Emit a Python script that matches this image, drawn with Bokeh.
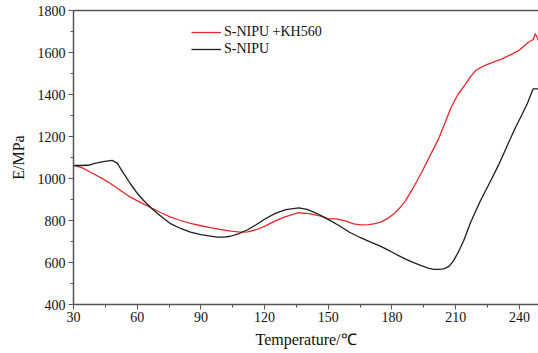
from bokeh.plotting import figure
from bokeh.models import LinearAxis, Range1d, FixedTicker, Legend, LegendItem
from bokeh.embed import file_html
from bokeh.resources import INLINE

# S-NIPU + KH560 (red)
kh_temp = [30, 34, 38, 43, 47.4, 52, 56.8, 61.5, 66.3, 71, 75.7, 80.4, 85.1, 90, 94.5, 99, 104, 108.7,
           112, 116, 120, 125, 130, 136, 141, 146, 150, 154, 158, 162, 165.2, 169, 172, 174.7, 178,
           180.9, 183.5, 186.4, 190, 194, 198, 202, 205, 207.6, 211, 214.7, 217, 219.4, 223, 227,
           231.9, 236, 240, 244.3, 246.5, 247.5, 249]
kh_mod = [1062, 1052, 1030, 1003, 976, 944, 911, 886, 862, 838, 816, 800, 786, 775, 766, 758, 749, 745,
          746, 756, 772, 798, 818, 837, 833, 822, 808, 808, 798, 784, 779, 780, 785, 792, 810,
          832, 858, 895, 955, 1030, 1110, 1190, 1265, 1333, 1400, 1451, 1485, 1514, 1535, 1552,
          1570, 1590, 1612, 1649, 1662, 1690, 1657]

# S-NIPU (black)
ni_temp = [30, 33, 37, 40, 44, 48.2, 50.6, 53.5, 56.8, 60, 63, 66.3, 70, 75.7, 80.4, 85.1, 90, 94.5,
           97.7, 101, 104, 108, 112, 116, 120, 125, 130, 136.1, 140, 145, 149.5, 155, 160, 165.2,
           170, 174.7, 179, 184, 189, 193.5, 197, 199.7, 202, 204.4, 207, 209.1, 211.5, 213.8, 217,
           221.7, 226, 230, 234, 238.2, 241, 243.7, 246.5, 249]
ni_mod = [1062, 1062, 1063, 1072, 1080, 1086, 1073, 1026, 975, 930, 895, 862, 830, 785, 762, 745, 733, 726,
          721, 721, 725, 738, 756, 780, 806, 834, 852, 860, 853, 832, 808, 776, 744, 718,
          697, 677, 655, 628, 604, 586, 573, 567, 567, 570, 583, 610, 655, 705, 790,
          895, 980, 1060, 1150, 1244, 1300, 1356, 1427, 1427]

x_ticks = [30, 60, 90, 120, 150, 180, 210, 240]
y_ticks = [400, 600, 800, 1000, 1200, 1400, 1600, 1800]

SERIF = "Liberation Serif"

p = figure(width=538, height=353, output_backend="svg", toolbar_location=None,
           x_range=Range1d(30, 249), y_range=Range1d(400, 1800),
           min_border_left=73, min_border_right=0, min_border_top=10, min_border_bottom=49)
p.background_fill_color = "white"
p.border_fill_color = "white"
p.outline_line_color = None
p.grid.visible = False

r_kh = p.line(kh_temp, kh_mod, line_color="#e8262c", line_width=1.3)
r_ni = p.line(ni_temp, ni_mod, line_color="#1e1e1e", line_width=1.3)

for ax in (p.xaxis[0], p.yaxis[0]):
    ax.axis_line_color = "#555555"
    ax.axis_line_width = 1.5
    ax.major_tick_line_color = "#555555"
    ax.minor_tick_line_color = "#555555"
    ax.major_tick_out = 5
    ax.major_tick_in = 0
    ax.minor_tick_out = 3
    ax.minor_tick_in = 0
    ax.major_label_text_font = SERIF
    ax.major_label_text_font_size = "14px"
    ax.major_label_text_color = "#111111"
    ax.axis_label_text_font = SERIF
    ax.axis_label_text_font_size = "16px"
    ax.axis_label_text_font_style = "normal"
    ax.axis_label_text_color = "#111111"

p.xaxis[0].ticker = FixedTicker(ticks=x_ticks, minor_ticks=[t + 15 for t in x_ticks])
p.yaxis[0].ticker = FixedTicker(ticks=y_ticks, minor_ticks=[t + 100 for t in y_ticks[:-1]])
p.xaxis[0].axis_label = "Temperature/℃"
p.yaxis[0].axis_label = "E/MPa"
p.xaxis[0].major_label_standoff = 2
p.xaxis[0].axis_label_standoff = 6
p.yaxis[0].major_label_standoff = 3
p.yaxis[0].axis_label_standoff = 8

top = LinearAxis(ticker=FixedTicker(ticks=[]), major_label_text_font_size="0px",
                 axis_line_color="#555555", axis_line_width=1.5,
                 major_tick_line_color=None, minor_tick_line_color=None)
p.add_layout(top, "above")
p.min_border_top = 10

legend = Legend(items=[LegendItem(label="S-NIPU +KH560", renderers=[r_kh]),
                       LegendItem(label="S-NIPU", renderers=[r_ni])],
                location=(118, 247))
legend.background_fill_alpha = 0
legend.border_line_color = None
legend.label_text_font = SERIF
legend.label_text_font_size = "14px"
legend.label_text_color = "#111111"
legend.glyph_width = 30
legend.label_standoff = 3
legend.spacing = 1
legend.padding = 0
legend.margin = 0
legend.label_height = 16
legend.glyph_height = 16
p.add_layout(legend, "center")

open("out.html", "w").write(file_html(p, INLINE))
